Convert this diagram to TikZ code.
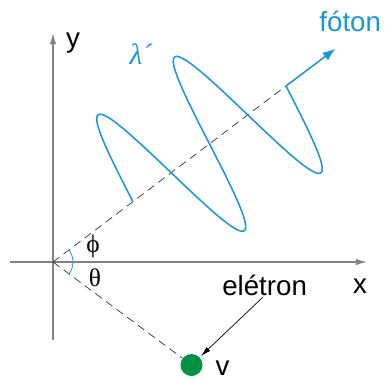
\documentclass[tikz,border=0pt]{standalone}
\usepackage{fontspec}
\setmainfont{Liberation Sans}
\newfontfamily\greekfont{Liberation Serif}
\usetikzlibrary{arrows.meta}

\definecolor{photonblue}{RGB}{27,150,220}
\definecolor{electrongreen}{RGB}{0,146,69}
\definecolor{anglegreen}{RGB}{40,175,100}
\definecolor{axisgray}{RGB}{130,130,130}

\begin{document}
\begin{tikzpicture}[
  axis/.style={draw=axisgray, line width=0.9pt, -{Latex[length=2.8mm, width=1.6mm]}},
  track/.style={draw=black!80, line width=0.5pt, dash pattern=on 2mm off 1.3mm},
  wave/.style={draw=photonblue, line width=1.1pt},
  pointer/.style={draw=black, line width=0.5pt, -{Latex[length=2.6mm, width=1.3mm]}},
  tag/.style={font=\fontsize{19.7}{22}\selectfont, inner sep=0pt, anchor=base},
  greek/.style={font=\fontsize{18}{20}\selectfont\greekfont, inner sep=0pt, anchor=base},
]
  \useasboundingbox (-1.325,-2.95) rectangle (8.3,6.55);

  \coordinate (o) at (0,0);
  \coordinate (xl) at (-1.075,0);
  \coordinate (xr) at (7.85,0);
  \coordinate (yb) at (0,-1.95);
  \coordinate (yt) at (0,5.725);
  \coordinate (p) at (5.825,4.4);
  \coordinate (tip) at (7.06,5.33);
  \coordinate (a) at (1.998,1.509);

  % axes
  \draw[axis] (xl) -- (xr);
  \draw[axis] (yb) -- (yt);
  \node[tag] (ylab) at (0.5,5.35) {y};
  \node[tag] (xlab) at (7.675,-0.775) {x};

  % electron
  \node[circle, fill=electrongreen, minimum size=0.55cm, inner sep=0pt] (ball) at (3.4625,-2.575) {};
  \node[tag] (vlab) at (4.24,-2.825) {v};
  \node[tag] (eletron) at (5.29,-0.825) {elétron};
  \draw[pointer, shorten <=2pt, shorten >=3.2mm] (eletron.south) -- (ball.center);

  % paths
  \draw[track] (o) -- (p);
  \draw[track] (o) -- (ball);

  % angles
  \draw[photonblue, line width=0.6pt] (0.5,0) arc[start angle=0, end angle=37.06, radius=0.5];
  \draw[anglegreen, line width=0.6pt] (0.5,0) arc[start angle=0, end angle=-36.6, radius=0.5];
  \node[greek] (phi) at (1.0,0.25) {ϕ};
  \node[greek] (theta) at (1.05,-0.6) {θ};

  % photon
  \begin{scope}[shift={(a)}, x={(0.9568cm,0.7227cm)}, y={(-1.35cm,1.81cm)}]
    \draw[wave] plot[domain=0:4, samples=120, smooth] (\x, {sin(\x*180)});
  \end{scope}
  \draw[wave, -{Latex[length=3.2mm, width=2.4mm]}] (p) -- (tip);
  \node[greek, text=photonblue, font=\fontsize{21}{24}\selectfont\greekfont\itshape] (lambda) at (2.2,4.925) {λ´};
  \node[tag, text=photonblue] (foton) at (7.43,5.76) {fóton};
\end{tikzpicture}
\end{document}
